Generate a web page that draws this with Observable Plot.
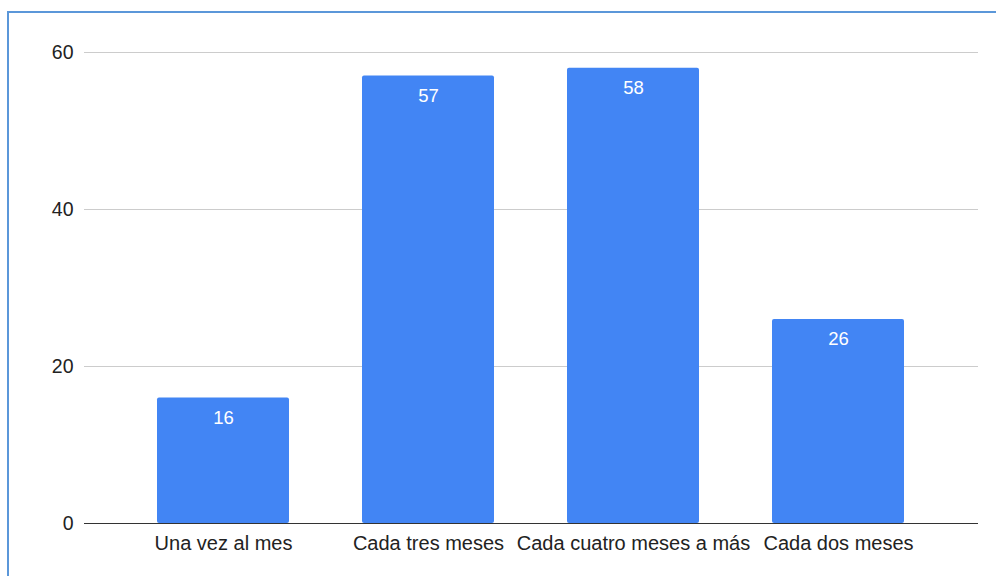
<!DOCTYPE html>
<html>
<head>
<meta charset="utf-8">
<script src="https://cdn.jsdelivr.net/npm/d3@7"></script>
<script src="https://cdn.jsdelivr.net/npm/@observablehq/plot@0.6"></script>
<style>
  html, body { margin: 0; padding: 0; background: #fff; }
  #wrap { position: relative; width: 996px; height: 576px; overflow: hidden; }
  #frame { position: absolute; left: 7px; top: 11px; width: 1100px; height: 700px; border: 2px solid #5b97d9; box-sizing: border-box; pointer-events: none; }
  #chart { position: absolute; left: 0; top: 0; }
</style>
</head>
<body>
<div id="wrap">
  <div id="chart"></div>
  <div id="frame"></div>
</div>
<script>
const categories = ["Una vez al mes", "Cada tres meses", "Cada cuatro meses a más", "Cada dos meses"];
const values = [16, 57, 58, 26];
const yTicks = [0, 20, 40, 60];

const data = categories.map((c, i) => ({category: c, value: values[i]}));

const chart = Plot.plot({
  width: 996,
  height: 576,
  marginLeft: 84,
  marginRight: 18,
  marginTop: 52,
  marginBottom: 53,
  style: {fontFamily: "'Liberation Sans', Arial, sans-serif", fontSize: "20px", color: "#222", background: "transparent"},
  x: {domain: categories, paddingInner: 0.356, paddingOuter: 0.358, label: null},
  y: {domain: [0, 60], ticks: yTicks, label: null},
  marks: [
    Plot.gridY(yTicks.filter(t => t > 0), {stroke: "#cccccc", strokeOpacity: 1, strokeWidth: 1}),
    Plot.barY(data, {x: "category", y: "value", fill: "#4285f4", rx: 2}),
    Plot.ruleY([0], {stroke: "#333", strokeWidth: 1}),
    Plot.text(data, {x: "category", y: "value", text: d => String(d.value), fill: "#ffffff", dy: 20, fontSize: 18.5}),
    Plot.axisY({ticks: yTicks, tickSize: 0, tickPadding: 11, label: null, fontSize: 19.5}),
    Plot.axisX({tickSize: 0, tickPadding: 12, label: null, fontSize: 20})
  ]
});
document.getElementById("chart").appendChild(chart);
</script>
</body>
</html>
